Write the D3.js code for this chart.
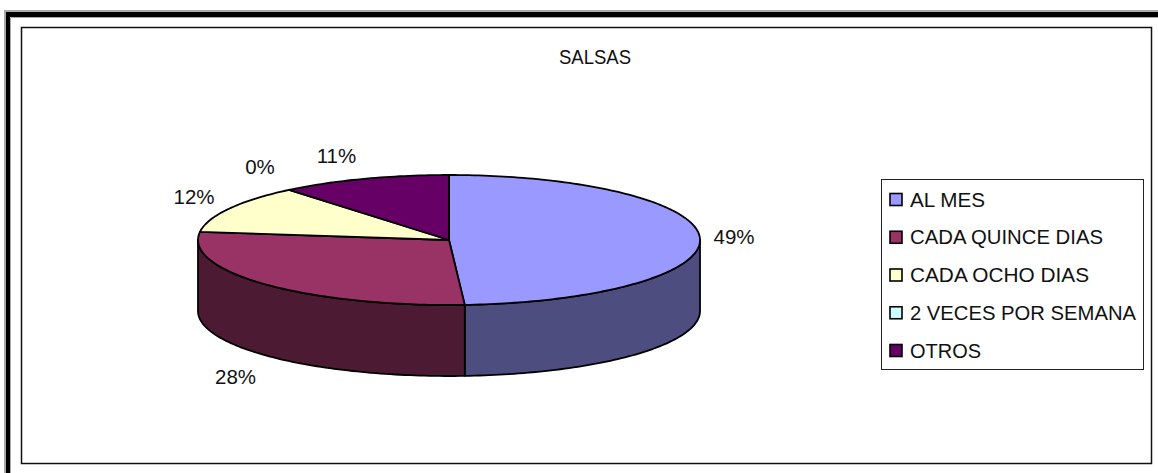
<!DOCTYPE html>
<html>
<head>
<meta charset="utf-8">
<script src="https://cdn.jsdelivr.net/npm/d3@7"></script>
<style>
html,body{margin:0;padding:0;background:#fff;overflow:hidden}
text{font-family:"Liberation Sans",Arial,sans-serif;fill:#111}
</style>
</head>
<body>
<svg id="chart" width="1158" height="473"></svg>
<script>
const categories = ["AL MES", "CADA QUINCE DIAS", "CADA OCHO DIAS", "2 VECES POR SEMANA", "OTROS"];
const shares = [49, 28, 12, 0, 11];
const topColors = ["#9999ff", "#993366", "#ffffcc", "#ccffff", "#660066"];
const sideColors = ["#4d4d80", "#4d1a33", "#808066", "#668080", "#330033"];
const chartTitle = "SALSAS";

// Layout tables, kept apart from the values
const labelPos = [[734, 244], [235.5, 384], [194, 204], [260, 174], [336.5, 163]];
const legendWidths = [75, 193, 179, 226, 71];

const svg = d3.select("#chart");
const FONT = 20.5;

// Window-style double frame on the top and left, chart area inside it
const frame = svg.append("g").attr("fill", "none");
frame.append("path").attr("d", "M5 473V11H1158").attr("stroke", "#aaa").attr("stroke-width", 2);
frame.append("path").attr("d", "M8 473V14.5").attr("stroke", "#000").attr("stroke-width", 4);
frame.append("path").attr("d", "M6 14.5H1158").attr("stroke", "#000").attr("stroke-width", 5);
frame.append("path").attr("d", "M10.5 473V17.5H1158").attr("stroke", "#aaa").attr("stroke-width", 1);
svg.append("rect").attr("x", 21.5).attr("y", 27.5).attr("width", 1130).attr("height", 436)
  .attr("fill", "#fff").attr("stroke", "#111").attr("stroke-width", 1.5);

svg.append("text").attr("x", 595).attr("y", 64).attr("text-anchor", "middle")
  .attr("font-size", 19.5).attr("textLength", 72).attr("lengthAdjust", "spacingAndGlyphs").text(chartTitle);

// Tilted pie: angles come from d3.pie, radial coordinates are flattened by the two scales
const cx = 449, cy = 240, rx = 251, ry = 65, depth = 71;
const xs = d3.scaleLinear().domain([-1, 1]).range([cx - rx, cx + rx]);
const ys = d3.scaleLinear().domain([-1, 1]).range([cy - ry, cy + ry]);
const pie = d3.pie().sort(null).value(d => d).startAngle(0).endAngle(2 * Math.PI);
const arcs = pie(shares);
const line = d3.line().x(d => d[0]).y(d => d[1]);
const rim = (a, dy = 0) => [xs(Math.sin(a)), ys(-Math.cos(a)) + dy];
const sweep = (a0, a1, dy = 0) => {
  const n = Math.max(1, Math.ceil((a1 - a0) / 0.02));
  return d3.range(n + 1).map(i => rim(a0 + (a1 - a0) * i / n, dy));
};

const pieG = svg.append("g").attr("stroke", "#000").attr("stroke-width", 1.8).attr("stroke-linejoin", "round");

// Outer wall: only the part of each slice that faces the viewer
arcs.forEach((d, i) => {
  const a0 = Math.max(d.startAngle, Math.PI / 2), a1 = Math.min(d.endAngle, 3 * Math.PI / 2);
  if (a1 <= a0) return;
  const pts = sweep(a0, a1).concat(sweep(a0, a1, depth).reverse());
  pieG.append("path").attr("d", line(pts) + "Z").attr("fill", sideColors[i]);
});

// Top face
arcs.forEach((d, i) => {
  if (d.endAngle - d.startAngle <= 0) return;
  const pts = [[cx, cy]].concat(sweep(d.startAngle, d.endAngle));
  pieG.append("path").attr("d", line(pts) + "Z").attr("fill", topColors[i]);
});

// Percentage labels
svg.append("g").attr("font-size", FONT).selectAll("text").data(shares).join("text")
  .attr("text-anchor", "middle")
  .attr("x", (d, i) => labelPos[i][0]).attr("y", (d, i) => labelPos[i][1])
  .text(d => d + "%");

// Legend
const legend = svg.append("g");
legend.append("rect").attr("x", 881.5).attr("y", 179.5).attr("width", 262).attr("height", 190)
  .attr("fill", "#fff").attr("stroke", "#222").attr("stroke-width", 1);
const rowY = d3.scalePoint().domain(categories).range([199.5, 350.5]);
categories.forEach((c, i) => {
  const y = rowY(c);
  legend.append("rect").attr("x", 890).attr("y", y - 6).attr("width", 12).attr("height", 12)
    .attr("fill", topColors[i]).attr("stroke", "#000").attr("stroke-width", 1.6);
  legend.append("text").attr("x", 910).attr("y", y + 7).attr("font-size", FONT)
    .attr("textLength", legendWidths[i]).attr("lengthAdjust", "spacingAndGlyphs").text(c);
});
</script>
</body>
</html>
